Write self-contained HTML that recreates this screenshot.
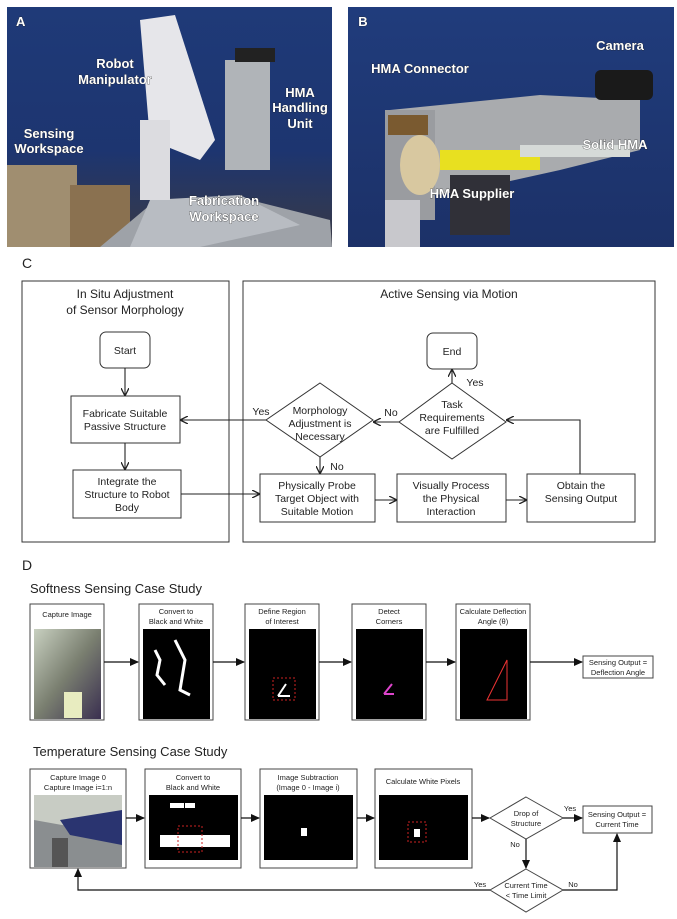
<!DOCTYPE html>
<html><head><meta charset="utf-8"><style>
html,body{margin:0;padding:0;background:#fff}
svg{display:block;font-family:"Liberation Sans",Arial,sans-serif}
</style></head><body>
<svg width="677" height="919" viewBox="0 0 677 919" xmlns="http://www.w3.org/2000/svg">
<defs>
<marker id="ar" markerWidth="8" markerHeight="8" refX="7" refY="4" orient="auto" markerUnits="userSpaceOnUse"><path d="M0,0 L8,4 L0,8" fill="none" stroke="#222" stroke-width="1.3"/></marker>
<marker id="af" markerWidth="9" markerHeight="8" refX="8" refY="4" orient="auto" markerUnits="userSpaceOnUse"><path d="M0,0 L9,4 L0,8 z" fill="#111"/></marker>
<linearGradient id="bgA" x1="0" y1="0" x2="0" y2="1"><stop offset="0" stop-color="#1f3a78"/><stop offset="0.6" stop-color="#1d3570"/><stop offset="1" stop-color="#3a3a44"/></linearGradient>
<linearGradient id="bgB" x1="0" y1="0" x2="0" y2="1"><stop offset="0" stop-color="#203c7c"/><stop offset="1" stop-color="#1c3168"/></linearGradient>
<linearGradient id="cap" x1="0" y1="0" x2="1" y2="1"><stop offset="0" stop-color="#c8d0c0"/><stop offset="0.5" stop-color="#7a7f70"/><stop offset="1" stop-color="#3a2f50"/></linearGradient>
</defs>

<!-- Photo A -->
<rect x="7" y="7" width="325" height="240" fill="url(#bgA)"/>
<rect x="7" y="165" width="70" height="82" fill="#a08e70"/>
<rect x="70" y="185" width="60" height="62" fill="#8a7150"/>
<polygon points="100,247 150,205 250,200 330,220 332,247" fill="#9ea2a8"/>
<polygon points="150,200 240,195 300,225 200,247 130,247" fill="#b8bcc2"/>
<polygon points="140,20 175,15 215,140 200,160 150,140" fill="#e6e6ea"/>
<rect x="225" y="60" width="45" height="110" fill="#b0b4b8"/>
<rect x="235" y="48" width="40" height="14" fill="#222"/>
<rect x="140" y="120" width="30" height="80" fill="#dcdce0"/>
<!-- Photo B -->
<rect x="348" y="7" width="326" height="240" fill="url(#bgB)"/>
<polygon points="390,110 540,95 640,100 640,150 560,170 470,190 400,200" fill="#a9abae"/>
<rect x="385" y="110" width="50" height="110" fill="#9a9ca0"/>
<rect x="388" y="115" width="40" height="20" fill="#7a5a30"/>
<ellipse cx="420" cy="165" rx="20" ry="30" fill="#d8c8a0"/>
<rect x="440" y="150" width="100" height="20" fill="#e8e020"/>
<rect x="520" y="145" width="110" height="12" fill="#d6dad8"/>
<rect x="595" y="70" width="58" height="30" rx="6" fill="#1a1a1a"/>
<rect x="385" y="200" width="35" height="47" fill="#c8c8cc"/>
<rect x="450" y="175" width="60" height="60" fill="#303038"/>

<g fill="#fff" font-weight="bold" font-size="13" text-anchor="middle" style="paint-order:stroke" stroke="#222" stroke-width="0.6">
<text x="16" y="26" text-anchor="start">A</text>
<text x="115" y="68">Robot</text><text x="115" y="84">Manipulator</text>
<text x="300" y="97">HMA</text><text x="300" y="112">Handling</text><text x="300" y="128">Unit</text>
<text x="49" y="138">Sensing</text><text x="49" y="153">Workspace</text>
<text x="224" y="205">Fabrication</text><text x="224" y="221">Workspace</text>
<text x="363" y="26">B</text>
<text x="620" y="50">Camera</text>
<text x="420" y="73">HMA Connector</text>
<text x="615" y="149">Solid HMA</text>
<text x="472" y="198">HMA Supplier</text>
</g>

<!-- Panel C -->
<g font-size="11" fill="#222" text-anchor="middle" stroke="none">
<text x="22" y="268" font-size="14" text-anchor="start">C</text>
<text x="125" y="298" font-size="12">In Situ Adjustment</text>
<text x="125" y="314" font-size="12">of Sensor Morphology</text>
<text x="449" y="298" font-size="12">Active Sensing via Motion</text>
</g>
<g fill="none" stroke="#333" stroke-width="1">
<rect x="22" y="281" width="207" height="261"/>
<rect x="243" y="281" width="412" height="261"/>
<rect x="100" y="332" width="50" height="36" rx="6" fill="#fff"/>
<rect x="427" y="333" width="50" height="36" rx="6"/>
<rect x="71" y="396" width="109" height="47"/>
<rect x="73" y="470" width="108" height="48"/>
<rect x="260" y="474" width="115" height="48"/>
<rect x="397" y="474" width="109" height="48"/>
<rect x="527" y="474" width="108" height="48"/>
<polygon points="320,383 373,420 320,457 266,420"/>
<polygon points="452,383 506,422 452,459 399,422"/>
</g>
<g fill="none" stroke="#222" stroke-width="1.1" marker-end="url(#ar)">
<line x1="125" y1="368" x2="125" y2="395"/>
<line x1="125" y1="443" x2="125" y2="469"/>
<line x1="181" y1="494" x2="259" y2="494"/>
<line x1="375" y1="500" x2="396" y2="500"/>
<line x1="506" y1="500" x2="526" y2="500"/>
<polyline points="580,474 580,420 507,420"/>
<line x1="399" y1="422" x2="374" y2="422"/>
<line x1="266" y1="420" x2="181" y2="420"/>
<line x1="320" y1="457" x2="320" y2="473"/>
<line x1="452" y1="383" x2="452" y2="370"/>
</g>
<g font-size="10.5" fill="#222" text-anchor="middle">
<text x="125" y="354">Start</text>
<text x="452" y="355">End</text>
<text x="125" y="417">Fabricate Suitable</text><text x="125" y="430">Passive Structure</text>
<text x="127" y="485">Integrate the</text><text x="127" y="498">Structure to Robot</text><text x="127" y="511">Body</text>
<text x="317" y="489">Physically Probe</text><text x="317" y="502">Target Object with</text><text x="317" y="515">Suitable Motion</text>
<text x="451" y="489">Visually Process</text><text x="451" y="502">the  Physical</text><text x="451" y="515">Interaction</text>
<text x="581" y="489">Obtain the</text><text x="581" y="502">Sensing Output</text>
<text x="320" y="414">Morphology</text><text x="320" y="427">Adjustment is</text><text x="320" y="440">Necessary</text>
<text x="452" y="408">Task</text><text x="452" y="421">Requirements</text><text x="452" y="434">are Fulfilled</text>
<text x="475" y="386">Yes</text>
<text x="391" y="416">No</text>
<text x="261" y="415">Yes</text>
<text x="337" y="470">No</text>
</g>

<!-- Panel D -->
<text x="22" y="570" font-size="14" fill="#222">D</text>
<text x="30" y="593" font-size="13" fill="#222">Softness Sensing Case Study</text>
<g stroke="#444" stroke-width="1" fill="#fff">
<rect x="30" y="604" width="74" height="116"/>
<rect x="139" y="604" width="74" height="116"/>
<rect x="245" y="604" width="74" height="116"/>
<rect x="352" y="604" width="74" height="116"/>
<rect x="456" y="604" width="74" height="116"/>
<rect x="583" y="656" width="70" height="22"/>
</g>
<rect x="34" y="629" width="67" height="90" fill="url(#cap)"/>
<rect x="64" y="692" width="18" height="26" fill="#e8ecc0"/>
<rect x="143" y="629" width="67" height="90" fill="#000"/>
<path d="M155,650 l5,10 l-3,15 l8,10 M175,640 l10,20 l-5,30 l10,5" stroke="#fff" stroke-width="3" fill="none"/>
<rect x="249" y="629" width="67" height="90" fill="#000"/>
<rect x="273" y="678" width="22" height="22" fill="none" stroke="#c22" stroke-width="1" stroke-dasharray="2,2"/>
<path d="M278,696 l8,-12 M278,696 h12" stroke="#fff" stroke-width="2"/>
<rect x="356" y="629" width="67" height="90" fill="#000"/>
<path d="M384,694 l8,-10 M384,694 h10" stroke="#d4c" stroke-width="2"/>
<rect x="460" y="629" width="67" height="90" fill="#000"/>
<path d="M487,700 l20,-40 l0,40 z" stroke="#e33" stroke-width="1" fill="none"/>
<g fill="none" stroke="#111" stroke-width="1.2" marker-end="url(#af)">
<line x1="104" y1="662" x2="138" y2="662"/>
<line x1="213" y1="662" x2="244" y2="662"/>
<line x1="319" y1="662" x2="351" y2="662"/>
<line x1="426" y1="662" x2="455" y2="662"/>
<line x1="530" y1="662" x2="582" y2="662"/>
</g>
<g font-size="7.5" fill="#222" text-anchor="middle">
<text x="67" y="617">Capture Image</text>
<text x="176" y="614">Convert to</text><text x="176" y="624">Black and White</text>
<text x="282" y="614">Define Region</text><text x="282" y="624">of Interest</text>
<text x="389" y="614">Detect</text><text x="389" y="624">Corners</text>
<text x="493" y="614">Calculate Deflection</text><text x="493" y="624">Angle (θ)</text>
<text x="618" y="665">Sensing Output =</text><text x="618" y="675">Deflection Angle</text>
</g>

<text x="33" y="756" font-size="13" fill="#222">Temperature Sensing Case Study</text>
<g stroke="#444" stroke-width="1" fill="#fff">
<rect x="30" y="769" width="96" height="99"/>
<rect x="145" y="769" width="96" height="99"/>
<rect x="260" y="769" width="97" height="99"/>
<rect x="375" y="769" width="97" height="99"/>
<rect x="583" y="806" width="69" height="27"/>
<polygon points="526,797 563,818 526,839 490,818"/>
<polygon points="526,869 563,890 526,912 490,890"/>
</g>
<rect x="34" y="795" width="88" height="72" fill="#8a8e90"/>
<polygon points="34,795 122,795 122,820 90,830 34,820" fill="#c8ccc4"/>
<polygon points="60,820 122,810 122,845 70,835" fill="#2a3470"/>
<rect x="52" y="838" width="16" height="29" fill="#555"/>
<rect x="149" y="795" width="89" height="65" fill="#000"/>
<rect x="160" y="835" width="70" height="12" fill="#fff"/>
<rect x="170" y="803" width="14" height="5" fill="#fff"/><rect x="185" y="803" width="10" height="5" fill="#fff"/>
<rect x="178" y="826" width="24" height="26" fill="none" stroke="#c22" stroke-dasharray="2,2"/>
<rect x="264" y="795" width="89" height="65" fill="#000"/>
<rect x="301" y="828" width="6" height="8" fill="#fff"/>
<rect x="379" y="795" width="89" height="65" fill="#000"/>
<rect x="414" y="829" width="6" height="8" fill="#fff"/>
<rect x="408" y="822" width="18" height="20" fill="none" stroke="#c22" stroke-dasharray="2,2"/>
<g fill="none" stroke="#111" stroke-width="1.2" marker-end="url(#af)">
<line x1="126" y1="818" x2="144" y2="818"/>
<line x1="241" y1="818" x2="259" y2="818"/>
<line x1="357" y1="818" x2="374" y2="818"/>
<line x1="472" y1="818" x2="489" y2="818"/>
<line x1="563" y1="818" x2="582" y2="818"/>
<line x1="526" y1="839" x2="526" y2="868"/>
<polyline points="490,890 78,890 78,869"/>
<polyline points="563,890 617,890 617,834"/>
</g>
<g font-size="7.5" fill="#222" text-anchor="middle">
<text x="78" y="780">Capture Image 0</text><text x="78" y="790">Capture Image i=1:n</text>
<text x="193" y="780">Convert to</text><text x="193" y="790">Black and White</text>
<text x="308" y="780">Image Subtraction</text><text x="308" y="790">(Image 0 - Image i)</text>
<text x="423" y="784">Calculate White Pixels</text>
<text x="526" y="816">Drop of</text><text x="526" y="826">Structure</text>
<text x="617" y="817">Sensing Output =</text><text x="617" y="827">Current Time</text>
<text x="526" y="888">Current Time</text><text x="526" y="898">&lt; Time Limit</text>
<text x="570" y="811">Yes</text>
<text x="515" y="847">No</text>
<text x="480" y="887">Yes</text>
<text x="573" y="887">No</text>
</g>
</svg>
</body></html>
